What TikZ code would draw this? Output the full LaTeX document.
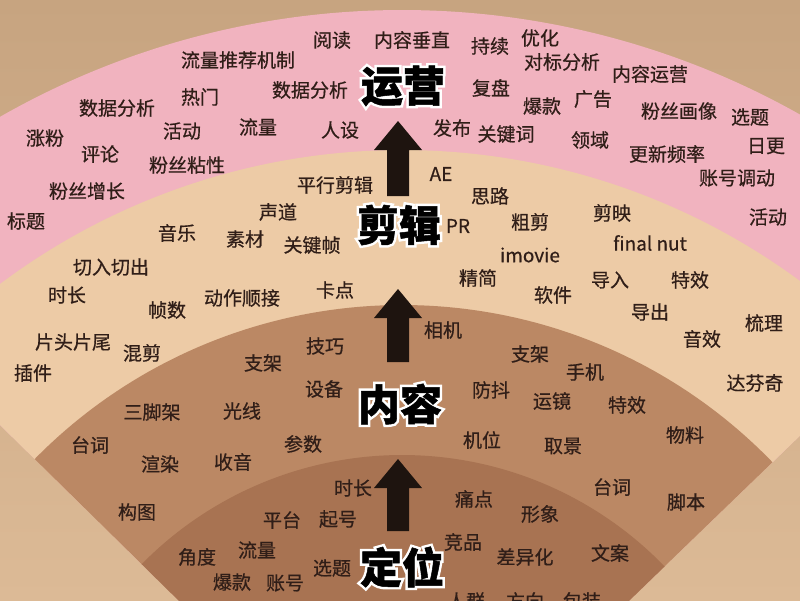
\documentclass[tikz,border=0pt]{standalone}
\usepackage{fontspec}
\newfontfamily\cjk{Noto Sans CJK SC}[BoldFeatures={FakeBold=1.2}]
\newfontfamily\cjkhalo{Noto Sans CJK SC}[BoldFeatures={FakeBold=13}]
\newfontfamily\cjklbl{Noto Sans CJK SC}[FakeBold=0.6]

\definecolor{bgtop}{RGB}{199,164,128}
\definecolor{bgbottom}{RGB}{220,186,150}
\definecolor{bandpink}{RGB}{241,179,191}
\definecolor{bandbeige}{RGB}{237,203,166}
\definecolor{bandbrown}{RGB}{187,136,100}
\definecolor{banddark}{RGB}{168,115,82}
\definecolor{inkdark}{RGB}{48,30,24}
\definecolor{arrowdark}{RGB}{30,20,15}

% white outline round a title (a fat white copy under it)
\newcommand\haloed[1]{\rlap{\cjkhalo\bfseries\color{white}#1}#1}

\begin{document}
\begin{tikzpicture}[
	x=1pt, y=-1pt,
	lbl/.style={
		font=\cjklbl\fontsize{19}{19}\selectfont, text=inkdark, inner sep=0pt
	},
	ttl/.style={
		font=\cjk\bfseries\fontsize{42}{42}\selectfont, text=black, inner sep=0pt
	},
	blockarrow/.style={
		fill=arrowdark
	}
]
	\useasboundingbox (0,0) rectangle (800,600);
	% Background
	\shade[top color=bgtop, bottom color=bgbottom] (0,0) rectangle (800,600);
	% Fan
	\coordinate (hub) at (402,820);
	\foreach \r/\c in {810/bandpink, 670/bandbeige, 515/bandbrown, 365/banddark}
		\fill[\c] (hub) -- ++(-135.5:\r) arc[start angle=-135.5, end angle=-44, radius=\r] -- cycle;
	% Arrows
	\foreach \tip/\base in {121/196, 289/362, 459/531}
		\fill[blockarrow] (398,\tip) -- ++(24,29) -- ++(-13,0) -- (409,\base)
			-- (387,\base) -- (387,\tip+29) -- ++(-13,0) -- cycle;
	% 运营
	\foreach \x/\y/\t [count=\i] in {332/40/阅读, 412/40/内容垂直, 490/46/持续, 540/38/优化,
		562/62/对标分析, 238/60/流量推荐机制, 310/90/数据分析, 200/97/热门, 117/108/数据分析,
		650/74/内容运营, 491/88/复盘, 542/106/爆款, 593/99/广告, 679/111/粉丝画像, 750/117/选题,
		45/138/涨粉, 100/154/评论, 182/131/活动, 258/127/流量, 340/130/人设, 452/128/发布,
		506/134/关键词, 590/140/领域, 667/154/更新频率, 766/146/日更, 187/165/粉丝粘性,
		87/191/粉丝增长, 737/178/账号调动, 26/221/标题, 768/217/活动}
		\node[lbl] (yy\i) at (\x,\y) {\t};
	% 剪辑
	\foreach \x/\y/\t [count=\i] in {335/185/平行剪辑, 441/174/AE, 490/196/思路, 278/212/声道,
		177/233/音乐, 245/239/素材, 312/245/关键帧, 458/226/PR, 530/222/粗剪, 612/213/剪映,
		650/243/final nut, 530/255/imovie, 111/267/切入切出, 67/295/时长, 167/310/帧数,
		242/298/动作顺接, 335/290/卡点, 478/278/精简, 553/295/软件, 610/280/导入, 690/280/特效,
		650/312/导出, 764/323/梳理, 702/339/音效, 755/383/达芬奇, 73/342/片头片尾, 142/353/混剪,
		33/373/插件}
		\node[lbl] (jj\i) at (\x,\y) {\t};
	% 内容
	\foreach \x/\y/\t [count=\i] in {263/363/支架, 325/346/技巧, 324/389/设备, 443/330/相机,
		530/354/支架, 585/372/手机, 491/390/防抖, 552/401/运镜, 627/405/特效, 152/412/三脚架,
		242/411/光线, 90/445/台词, 160/464/渲染, 233/462/收音, 303/444/参数, 482/440/机位,
		563/446/取景, 685/435/物料, 137/512/构图, 612/487/台词, 686/502/脚本}
		\node[lbl] (nr\i) at (\x,\y) {\t};
	% 定位
	\foreach \x/\y/\t [count=\i] in {353/488/时长, 282/520/平台, 338/519/起号, 474/499/痛点,
		540/514/形象, 197/557/角度, 257/550/流量, 332/568/选题, 232/582/爆款, 285/583/账号,
		463/542/竞品, 525/557/差异化, 610/553/文案, 466/601/人群, 525/601/方向, 582/601/包装}
		\node[lbl] (dw\i) at (\x,\y) {\t};
	% Titles
	\node[ttl] (yunying) at (403,86) {\haloed{运营}};
	\node[ttl] (jianji) at (399,225) {\haloed{剪辑}};
	\node[ttl] (neirong) at (400,404) {\haloed{内容}};
	\node[ttl] (dingwei) at (402,567) {\haloed{定位}};
\end{tikzpicture}
\end{document}
